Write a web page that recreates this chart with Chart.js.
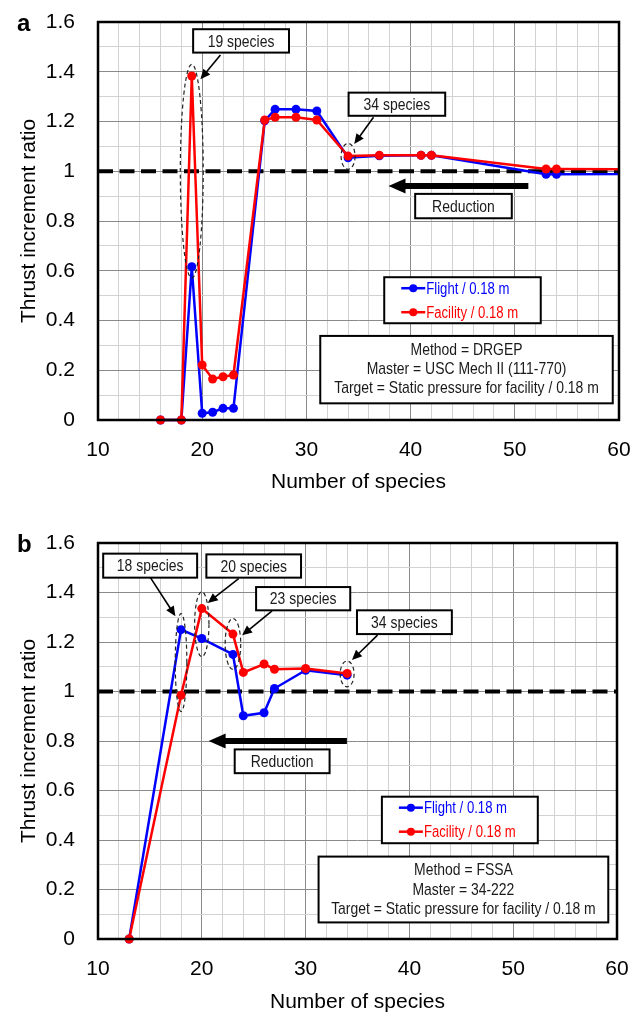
<!DOCTYPE html>
<html>
<head>
<meta charset="utf-8">
<script src="https://cdn.jsdelivr.net/npm/chart.js@4.4.1/dist/chart.umd.min.js"></script>
<style>
  body { margin: 0; background: #fff; }
  canvas { position: absolute; left: 0; }
</style>
</head>
<body>
<canvas id="chartA" width="643" height="508" style="top:0"></canvas>
<canvas id="chartB" width="643" height="508" style="top:508px"></canvas>
<script>
const FONT = '"Liberation Sans", Arial, sans-serif';

// panel a: DRGEP reduction of USC Mech II (master at 111 species, off the axis)
const speciesA  = [16, 18, 19, 20, 21, 22, 23, 26, 27, 29, 31, 34, 37, 41, 42, 53, 54, 111];
const flightA   = [0, 0, 0.616, 0.027, 0.031, 0.047, 0.047, 1.203, 1.249, 1.249, 1.242, 1.054, 1.062, 1.064, 1.064, 0.988, 0.988, 1.0];
const facilityA = [0, 0, 1.383, 0.221, 0.165, 0.174, 0.181, 1.206, 1.217, 1.217, 1.206, 1.061, 1.064, 1.064, 1.064, 1.009, 1.009, 1.0];

// panel b: FSSA reduction of the 34-222 master
const speciesB  = [13, 18, 20, 23, 24, 26, 27, 30, 34];
const flightB   = [0, 1.250, 1.214, 1.150, 0.902, 0.914, 1.012, 1.086, 1.066];
const facilityB = [0, 0.985, 1.335, 1.232, 1.077, 1.111, 1.090, 1.093, 1.073];

// dashed reference line (ratio = 1)
const refX = [10, 60];
const refY = [1, 1];

// labelled ticks; the grid also has minor lines at every 2 species / 0.1
const xLabels = [10, 20, 30, 40, 50, 60];
const yLabels = [0, 0.2, 0.4, 0.6, 0.8, 1, 1.2, 1.4, 1.6];

const seriesNames = ['Flight / 0.18 m', 'Facility / 0.18 m'];
const BLUE = '#0000ff', RED = '#ff0000';
const MAJOR = '#8a8a8a', MINOR = '#d2d2d2';
const SQUEEZE = 0.82; // the figure's lettering is narrow

Chart.defaults.font.family = FONT;
Chart.defaults.color = '#000';

function pts(xs, ys) {
  return xs.map((v, i) => ({ x: v, y: ys[i] }));
}

function narrowText(ctx, s, x, y, size, align, color) {
  ctx.save();
  ctx.font = size + 'px ' + FONT;
  ctx.textAlign = align;
  ctx.textBaseline = 'middle';
  ctx.fillStyle = color;
  ctx.translate(x, y);
  ctx.scale(SQUEEZE, 1);
  ctx.fillText(s, 0, 0);
  ctx.restore();
}

const notesPlugin = {
  id: 'notes',
  afterDatasetsDraw(chart, args, opts) {
    const { ctx, chartArea: a, scales: { x, y } } = chart;
    const X = v => x.getPixelForValue(v);
    const Y = v => y.getPixelForValue(v);
    ctx.save();

    // plot frame
    ctx.strokeStyle = '#000';
    ctx.lineWidth = 2.5;
    ctx.strokeRect(a.left, a.top, a.width, a.height);

    // panel letter
    ctx.fillStyle = '#000';
    ctx.font = 'bold 24px ' + FONT;
    ctx.textAlign = 'left';
    ctx.textBaseline = 'alphabetic';
    ctx.fillText(opts.letter, 17, a.top + 9);

    // dashed ellipses round the picked points
    ctx.setLineDash([4, 3]);
    ctx.lineWidth = 1.2;
    ctx.strokeStyle = '#222';
    opts.ellipses.forEach(e => {
      ctx.beginPath();
      ctx.ellipse(X(e.x), Y(e.y), Math.abs(X(e.x + e.rx) - X(e.x)), Math.abs(Y(e.y + e.ry) - Y(e.y)), 0, 0, Math.PI * 2);
      ctx.stroke();
    });
    ctx.setLineDash([]);

    // thin callout arrows
    ctx.strokeStyle = '#000';
    ctx.fillStyle = '#000';
    ctx.lineWidth = 1.6;
    opts.arrows.forEach(ar => {
      const x1 = X(ar.from[0]), y1 = Y(ar.from[1]);
      const x2 = X(ar.to[0]), y2 = Y(ar.to[1]);
      const ang = Math.atan2(y2 - y1, x2 - x1);
      const hl = 10, hw = 4.5;
      ctx.beginPath();
      ctx.moveTo(x1, y1);
      ctx.lineTo(x2 - Math.cos(ang) * hl * 0.8, y2 - Math.sin(ang) * hl * 0.8);
      ctx.stroke();
      ctx.beginPath();
      ctx.moveTo(x2, y2);
      ctx.lineTo(x2 - Math.cos(ang) * hl - Math.sin(ang) * hw, y2 - Math.sin(ang) * hl + Math.cos(ang) * hw);
      ctx.lineTo(x2 - Math.cos(ang) * hl + Math.sin(ang) * hw, y2 - Math.sin(ang) * hl - Math.cos(ang) * hw);
      ctx.closePath();
      ctx.fill();
    });

    // thick "reduction" arrow
    const r = opts.reduction;
    const rx1 = X(r.x1), rx2 = X(r.x2), ry = Y(r.y);
    ctx.lineWidth = 6;
    ctx.beginPath();
    ctx.moveTo(rx1, ry);
    ctx.lineTo(rx2 + 15, ry);
    ctx.stroke();
    ctx.beginPath();
    ctx.moveTo(rx2, ry);
    ctx.lineTo(rx2 + 17, ry - 7.5);
    ctx.lineTo(rx2 + 17, ry + 7.5);
    ctx.closePath();
    ctx.fill();

    // text boxes
    function box(b) {
      const l = X(b.x1), t = Y(b.y1), w = X(b.x2) - l, h = Y(b.y2) - t;
      ctx.fillStyle = '#fff';
      ctx.fillRect(l, t, w, h);
      ctx.strokeStyle = '#000';
      ctx.lineWidth = 2;
      ctx.strokeRect(l, t, w, h);
      return { l, t, w, h };
    }
    opts.boxes.forEach(b => {
      const g = box(b);
      narrowText(ctx, b.text, g.l + g.w / 2, g.t + g.h / 2 + 1, 17, 'center', '#1a1a1a');
    });

    // legend box
    const lg = box(opts.legend);
    chart.data.datasets.filter(d => d.legend !== false).forEach((d, i) => {
      const cy = lg.t + 11 + i * 24;
      ctx.strokeStyle = d.borderColor;
      ctx.fillStyle = d.borderColor;
      ctx.lineWidth = 2.5;
      ctx.beginPath();
      ctx.moveTo(lg.l + 17, cy);
      ctx.lineTo(lg.l + 41, cy);
      ctx.stroke();
      ctx.beginPath();
      ctx.arc(lg.l + 29, cy, 4, 0, Math.PI * 2);
      ctx.fill();
      narrowText(ctx, d.label, lg.l + 42, cy + 1, 16, 'left', d.borderColor);
    });

    // method / master / target box
    const ib = box(opts.info);
    opts.info.lines.forEach((s, i) => {
      narrowText(ctx, s, ib.l + ib.w / 2, ib.t + 14 + i * 19.3, 17, 'center', '#1a1a1a');
    });

    ctx.restore();
  }
};

function makeChart(id, xs, flight, facility, layout, notes) {
  return new Chart(document.getElementById(id), {
    type: 'line',
    data: {
      datasets: [
        {
          label: 'ratio = 1',
          legend: false,
          data: pts(refX, refY),
          borderColor: '#000',
          borderWidth: 4,
          borderDash: [15, 6.5],
          pointRadius: 0,
          order: 3,
          clip: false
        },
        {
          label: seriesNames[0],
          data: pts(xs, flight),
          borderColor: BLUE,
          backgroundColor: BLUE,
          borderWidth: 2.5,
          pointRadius: 4.5,
          pointBorderWidth: 0,
          pointBackgroundColor: BLUE,
          tension: 0,
          order: 2,
          clip: { left: false, top: false, right: 0, bottom: false }
        },
        {
          label: seriesNames[1],
          data: pts(xs, facility),
          borderColor: RED,
          backgroundColor: RED,
          borderWidth: 2.5,
          pointRadius: 4.5,
          pointBorderWidth: 0,
          pointBackgroundColor: RED,
          tension: 0,
          order: 1,
          clip: { left: false, top: false, right: 0, bottom: false }
        }
      ]
    },
    options: {
      responsive: false,
      animation: false,
      layout: { padding: { top: layout.top, right: layout.right, left: 0, bottom: 0 } },
      plugins: {
        legend: { display: false },
        tooltip: { enabled: false },
        notes: notes
      },
      scales: {
        x: {
          type: 'linear',
          min: 10,
          max: 60,
          afterFit: s => {
            s.height = layout.xHeight;
            s.paddingLeft = 0;
            s.paddingRight = 0;
          },
          border: { display: false },
          grid: {
            drawTicks: false,
            color: c => (c.tick && xLabels.includes(c.tick.value)) ? MAJOR : MINOR
          },
          ticks: {
            stepSize: 2,
            autoSkip: false,
            maxRotation: 0,
            padding: 18,
            font: { size: 21 },
            callback: v => xLabels.includes(v) ? String(v) : ''
          },
          title: {
            display: true,
            text: 'Number of species',
            font: { size: 21 },
            padding: { top: 0, bottom: layout.titlePad }
          }
        },
        y: {
          min: 0,
          max: 1.6,
          afterFit: s => {
            s.width = 98;
            s.paddingTop = 0;
            s.paddingBottom = 0;
          },
          border: { display: false },
          grid: {
            drawTicks: false,
            color: c => (c.tick && yLabels.includes(Math.round(c.tick.value * 10) / 10)) ? MAJOR : MINOR
          },
          ticks: {
            stepSize: 0.1,
            autoSkip: false,
            padding: 23,
            font: { size: 21 },
            callback: v => {
              const r = Math.round(v * 10) / 10;
              return yLabels.includes(r) ? String(r) : '';
            }
          },
          title: {
            display: true,
            text: 'Thrust increment ratio',
            font: { size: 21 },
            padding: { top: 17, bottom: 0 }
          }
        }
      }
    },
    plugins: [notesPlugin]
  });
}

makeChart('chartA', speciesA, flightA, facilityA,
  { top: 22, right: 24, xHeight: 88, titlePad: 13 },
  {
    letter: 'a',
    boxes: [
      { text: '19 species', x1: 19.13, x2: 28.33, y1: 1.571, y2: 1.477 },
      { text: '34 species', x1: 34.05, x2: 43.32, y1: 1.316, y2: 1.223 },
      { text: 'Reduction', x1: 40.44, x2: 49.71, y1: 0.909, y2: 0.811 }
    ],
    arrows: [
      { from: [21.75, 1.467], to: [19.83, 1.370] },
      { from: [36.44, 1.217], to: [34.59, 1.110] }
    ],
    ellipses: [
      { x: 19, y: 1.0, rx: 1.1, ry: 0.43 },
      { x: 34, y: 1.06, rx: 0.67, ry: 0.052 }
    ],
    reduction: { x1: 51.3, x2: 37.88, y: 0.941 },
    legend: { x1: 37.47, x2: 52.49, y1: 0.574, y2: 0.389 },
    info: {
      x1: 31.33, x2: 59.4, y1: 0.338, y2: 0.067,
      lines: ['Method = DRGEP', 'Master = USC Mech II (111-770)', 'Target = Static pressure for facility / 0.18 m']
    }
  });

makeChart('chartB', speciesB, flightB, facilityB,
  { top: 35, right: 26, xHeight: 77, titlePad: 1 },
  {
    letter: 'b',
    boxes: [
      { text: '18 species', x1: 10.5, x2: 19.55, y1: 1.557, y2: 1.46 },
      { text: '20 species', x1: 20.44, x2: 29.56, y1: 1.554, y2: 1.46 },
      { text: '23 species', x1: 25.23, x2: 34.3, y1: 1.422, y2: 1.328 },
      { text: '34 species', x1: 34.95, x2: 44.09, y1: 1.328, y2: 1.232 },
      { text: 'Reduction', x1: 23.17, x2: 32.31, y1: 0.766, y2: 0.67 }
    ],
    arrows: [
      { from: [15.05, 1.46], to: [17.46, 1.304] },
      { from: [23.55, 1.456], to: [20.57, 1.358] },
      { from: [26.77, 1.326], to: [23.88, 1.227] },
      { from: [36.93, 1.228], to: [34.47, 1.127] }
    ],
    ellipses: [
      { x: 18, y: 1.117, rx: 0.56, ry: 0.198 },
      { x: 20, y: 1.272, rx: 0.69, ry: 0.131 },
      { x: 23, y: 1.192, rx: 0.75, ry: 0.103 },
      { x: 34, y: 1.071, rx: 0.67, ry: 0.052 }
    ],
    reduction: { x1: 33.98, x2: 20.66, y: 0.8 },
    legend: { x1: 37.35, x2: 52.37, y1: 0.575, y2: 0.387 },
    info: {
      x1: 31.25, x2: 59.16, y1: 0.333, y2: 0.067,
      lines: ['Method = FSSA', 'Master = 34-222', 'Target = Static pressure for facility / 0.18 m']
    }
  });
</script>
</body>
</html>
